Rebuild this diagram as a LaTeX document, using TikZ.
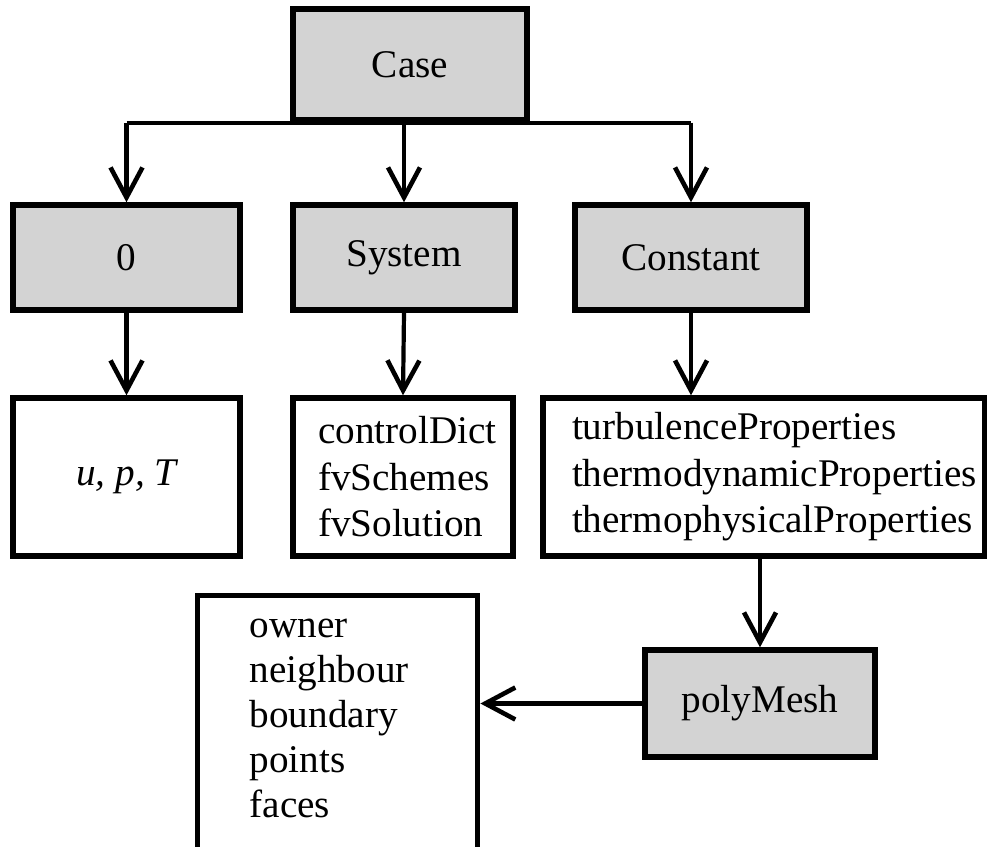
\documentclass[tikz,border=0pt]{standalone}
\usepackage{fontspec}
\setmainfont{Liberation Serif}
\usetikzlibrary{arrows.meta}
\definecolor{boxgray}{RGB}{211,211,211}

\begin{document}
\begin{tikzpicture}[x=0.5pt,y=-0.5pt,
		box/.style={draw, line width=2.7pt, inner sep=0pt, font=\fontsize{19.6pt}{23.25pt}\selectfont},
		dir/.style={box, fill=boxgray},
		files/.style={box, align=left, text width=#1},
		arr/.style={line width=2.1pt, -{Straight Barb[length=15pt,width=16pt,line width=2.3pt]}},
		bus/.style={line width=2.1pt}]
		\useasboundingbox (0,0) rectangle (987,847);
		\node[dir, minimum width=117pt, minimum height=55.5pt] (case) at (410,64.5) {Case};
		\node[dir, minimum width=113.5pt, minimum height=52.5pt] (zero) at (126.5,257.5) {0};
		\node[dir, minimum width=111pt, minimum height=52.5pt] (system) at (404,257.5) {System};
		\node[dir, minimum width=116pt, minimum height=52.5pt] (constant) at (691,257.5) {Constant};
		\node[box, minimum width=113.5pt, minimum height=79pt] (fields) at (126.5,477) {\itshape u, p, T};
		\node[files=85pt, inner xsep=12.5pt, minimum height=79pt] (sysfiles) at (403,477) {controlDict\\fvSchemes\\fvSolution};
		\node[files=192pt, inner xsep=14.5pt, minimum height=79pt] (props) at (764,477) {turbulenceProperties\\thermodynamicProperties\\thermophysicalProperties};
		\node[dir, minimum width=115pt, minimum height=53.5pt] (polymesh) at (760,703.5) {polyMesh};
		\node[files=88pt, inner xsep=26pt, anchor=north west, text height=21pt, text depth=110pt,
			font=\fontsize{19.6pt}{22.5pt}\selectfont] (meshfiles) at (195,593) {owner\\neighbour\\boundary\\points\\faces};
		\draw[bus] (zero.north |- case.south) -- (constant.north |- case.south);
		\draw[arr] (zero.north |- case.south) -- (zero.north);
		\draw[arr] (system.north |- case.south) -- (system.north);
		\draw[arr] (constant.north |- case.south) -- (constant.north);
		\draw[arr] (zero.south) -- (fields.north);
		\draw[arr] (system.south) -- (sysfiles.north);
		\draw[arr] (constant.south) -- (constant.south |- props.north);
		\draw[arr] (props.south -| polymesh.north) -- (polymesh.north);
		\draw[arr] (polymesh.west) -- (polymesh.west -| meshfiles.east);
	\end{tikzpicture}
\end{document}
